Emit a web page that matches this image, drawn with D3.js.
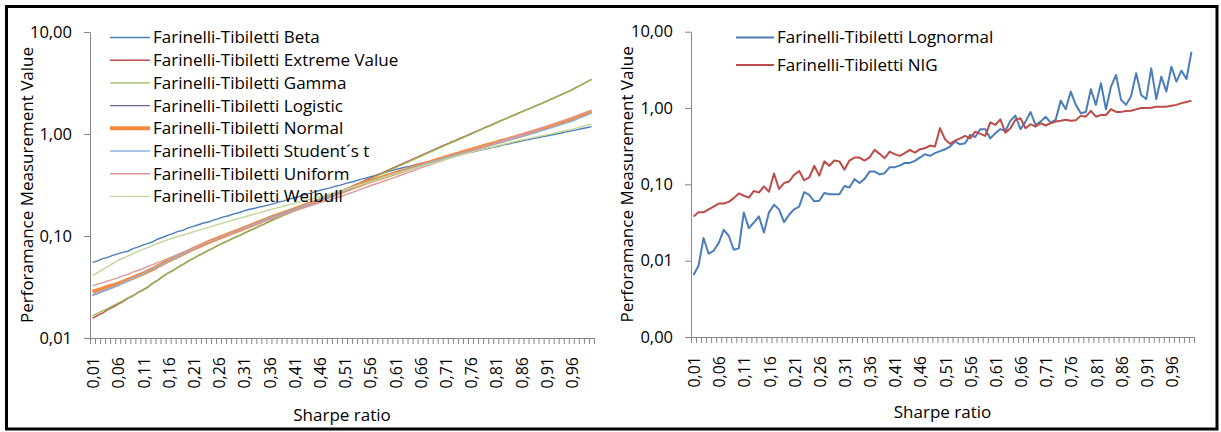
<!DOCTYPE html>
<html>
<head>
<meta charset="utf-8">
<script src="https://cdn.jsdelivr.net/npm/d3@7"></script>
<style>
  body { margin: 0; background: #fff; }
  svg { display: block; font-family: 'Open Sans', sans-serif; }
</style>
</head>
<body>
<svg id="chart" width="1221" height="432"></svg>
<script>
// categories: Sharpe ratio 0,01 .. 1,00
const sharpeRatios = d3.range(1, 101).map(i => i / 100);
const xTickLabels = ['0,01', '0,06', '0,11', '0,16', '0,21', '0,26', '0,31', '0,36', '0,41', '0,46',
                     '0,51', '0,56', '0,61', '0,66', '0,71', '0,76', '0,81', '0,86', '0,91', '0,96'];
const leftYTicks = [0.01, 0.1, 1, 10];
const rightYTicks = [0.001, 0.01, 0.1, 1, 10];

const betaValues = [0.0552,0.0571,0.0600,0.0618,0.0645,0.0668,0.0690,0.0708,0.0752,0.0779,0.0813,0.0846,0.0879,0.0935,0.0972,0.102,0.106,0.111,0.114,0.120,
  0.1245,0.129,0.134,0.137,0.143,0.148,0.154,0.158,0.165,0.169,0.176,0.182,0.186,0.192,0.196,0.202,0.208,0.216,0.221,0.230,
  0.237,0.244,0.254,0.260,0.271,0.279,0.288,0.295,0.306,0.314,0.324,0.335,0.344,0.357,0.367,0.380,0.391,0.407,0.418,0.434,
  0.447,0.459,0.473,0.484,0.500,0.513,0.527,0.539,0.554,0.567,0.582,0.596,0.613,0.627,0.645,0.661,0.677,0.696,0.712,0.732,
  0.750,0.768,0.790,0.808,0.831,0.851,0.870,0.892,0.911,0.934,0.955,0.976,1.001,1.022,1.048,1.072,1.097,1.126,1.151,1.180];

const extremeValues = [0.0156,0.0167,0.0175,0.0190,0.0200,0.0214,0.0227,0.0245,0.0258,0.0278,0.0295,0.0316,0.0345,0.0369,0.0402,0.0432,0.0460,0.0496,0.0526,0.0566,
  0.0603,0.0642,0.0678,0.0724,0.0764,0.0813,0.0859,0.0902,0.0956,0.1003,0.106,0.112,0.1175,0.1245,0.1306,0.138,0.1455,0.1525,0.161,0.1688,
  0.178,0.186,0.194,0.203,0.211,0.221,0.233,0.244,0.258,0.270,0.285,0.300,0.316,0.331,0.350,0.367,0.387,0.405,0.428,0.449,
  0.473,0.498,0.524,0.550,0.581,0.610,0.642,0.674,0.711,0.746,0.785,0.825,0.864,0.909,0.952,1.000,1.053,1.106,1.166,1.224,
  1.288,1.353,1.418,1.491,1.562,1.641,1.724,1.806,1.898,1.989,2.089,2.200,2.310,2.434,2.557,2.692,2.863,3.040,3.234,3.436];

const gammaValues = [0.0166,0.0174,0.0184,0.0194,0.0206,0.0218,0.0231,0.0247,0.0261,0.0280,0.0298,0.0320,0.0347,0.0372,0.0404,0.0434,0.0463,0.0497,0.0529,0.0567,
  0.0605,0.0643,0.0681,0.0724,0.0767,0.0812,0.0858,0.0905,0.0954,0.1004,0.1058,0.1117,0.1174,0.1240,0.1302,0.1372,0.1445,0.1518,0.1598,0.1676,
  0.1765,0.184,0.192,0.201,0.209,0.218,0.229,0.241,0.253,0.266,0.280,0.295,0.310,0.326,0.343,0.361,0.380,0.399,0.420,0.442,
  0.465,0.490,0.515,0.542,0.570,0.600,0.632,0.664,0.700,0.735,0.774,0.814,0.854,0.897,0.942,0.990,1.041,1.095,1.152,1.211,
  1.275,1.340,1.408,1.479,1.550,1.629,1.712,1.796,1.887,1.978,2.078,2.190,2.300,2.424,2.550,2.685,2.857,3.035,3.230,3.432];

const logisticValues = [0.0262,0.0273,0.0286,0.0298,0.0312,0.0327,0.0345,0.0364,0.0384,0.0405,0.0425,0.0451,0.0477,0.0507,0.0535,0.0568,0.0600,0.0636,0.0670,0.0711,
  0.0749,0.0789,0.0824,0.0869,0.0908,0.0957,0.0995,0.1045,0.1087,0.1140,0.1185,0.1246,0.1300,0.1366,0.1424,0.1497,0.1551,0.1623,0.1683,0.1760,
  0.1825,0.1908,0.1978,0.2068,0.2145,0.2243,0.2335,0.2448,0.2549,0.2670,0.2782,0.2908,0.3023,0.3160,0.3286,0.3432,0.3552,0.3695,0.3824,0.3977,
  0.4115,0.4282,0.4430,0.4608,0.4769,0.4962,0.5122,0.5316,0.5488,0.5695,0.5880,0.6103,0.6300,0.6540,0.6750,0.7008,0.7218,0.7475,0.7700,0.7975,
  0.8210,0.8504,0.8758,0.9070,0.9342,0.9675,0.9988,1.036,1.070,1.110,1.147,1.195,1.240,1.293,1.341,1.398,1.459,1.518,1.589,1.655];

const normalValues = [0.0284,0.0295,0.0305,0.0318,0.0327,0.0339,0.0355,0.0372,0.0389,0.0408,0.0427,0.0452,0.0476,0.0507,0.0537,0.0569,0.0601,0.0635,0.0671,0.0710,
  0.0750,0.0787,0.0826,0.0870,0.0910,0.0955,0.0998,0.1042,0.1089,0.1138,0.1189,0.1244,0.1302,0.1363,0.1427,0.1493,0.1555,0.1622,0.1686,0.1756,
  0.1828,0.1904,0.1982,0.2064,0.2150,0.2239,0.2339,0.2444,0.2560,0.2667,0.2786,0.2904,0.3027,0.3156,0.3290,0.3428,0.3557,0.3690,0.3829,0.3972,
  0.4121,0.4276,0.4430,0.4602,0.4775,0.4955,0.5129,0.5309,0.5495,0.5688,0.5888,0.6095,0.6309,0.6530,0.6760,0.6998,0.7228,0.7470,0.7710,0.7963,
  0.8222,0.8492,0.8770,0.9058,0.9355,0.9661,1.000,1.035,1.071,1.109,1.148,1.194,1.241,1.291,1.342,1.396,1.457,1.520,1.587,1.656];

const studentValues = [0.0264,0.0276,0.0289,0.0301,0.0314,0.0330,0.0346,0.0366,0.0384,0.0406,0.0426,0.0452,0.0479,0.0506,0.0537,0.0566,0.0601,0.0633,0.0671,0.0707,
  0.0749,0.0785,0.0827,0.0864,0.0910,0.0952,0.0999,0.1040,0.1090,0.1134,0.1188,0.1240,0.1302,0.1358,0.1426,0.1488,0.1553,0.1613,0.1684,0.1749,
  0.1825,0.1897,0.1978,0.2056,0.2145,0.2230,0.2332,0.2432,0.2549,0.2652,0.2775,0.2891,0.3016,0.3140,0.3275,0.3405,0.3540,0.3670,0.3812,0.3948,
  0.4095,0.4250,0.4400,0.4566,0.4725,0.4905,0.5075,0.5262,0.5440,0.5632,0.5820,0.6025,0.6223,0.6440,0.6650,0.6878,0.7100,0.7333,0.7570,0.7818,
  0.8065,0.8330,0.8590,0.8875,0.9150,0.9450,0.9750,1.008,1.040,1.076,1.111,1.150,1.191,1.235,1.279,1.326,1.390,1.456,1.526,1.600];

const uniformValues = [0.0324,0.0338,0.0347,0.0363,0.0374,0.0389,0.0406,0.0421,0.0442,0.0459,0.0479,0.0503,0.0524,0.0551,0.0574,0.0603,0.0630,0.0663,0.0690,0.0726,
  0.0759,0.0797,0.0832,0.0874,0.0912,0.0955,0.0997,0.1036,0.1083,0.1125,0.1175,0.1222,0.1278,0.1328,0.1389,0.1445,0.1505,0.1561,0.1628,0.1688,
  0.1758,0.1826,0.1890,0.1967,0.2036,0.2113,0.2190,0.2262,0.2347,0.2424,0.2512,0.2620,0.2728,0.2848,0.2963,0.3090,0.3215,0.3340,0.3478,0.3614,
  0.3758,0.3920,0.4080,0.4260,0.4432,0.4624,0.4810,0.4998,0.5205,0.5408,0.5623,0.5850,0.6080,0.6327,0.6572,0.6839,0.7096,0.7362,0.7640,0.7920,
  0.8222,0.8530,0.8850,0.9190,0.9520,0.9886,1.026,1.064,1.105,1.146,1.189,1.234,1.279,1.329,1.377,1.429,1.498,1.566,1.641,1.718];

const weibullValues = [0.0408,0.0437,0.0468,0.0501,0.0537,0.0575,0.0605,0.0636,0.0669,0.0704,0.0741,0.0774,0.0809,0.0845,0.0883,0.0923,0.0955,0.0989,0.1023,0.1059,
  0.1096,0.1135,0.1175,0.1216,0.1259,0.1303,0.1346,0.1390,0.1435,0.1482,0.1531,0.1581,0.1633,0.1687,0.1742,0.1799,0.1854,0.1910,0.1968,0.2028,
  0.2089,0.2153,0.2218,0.2285,0.2355,0.2427,0.2506,0.2588,0.2673,0.2760,0.2851,0.2951,0.3055,0.3162,0.3273,0.3388,0.3515,0.3648,0.3785,0.3927,
  0.4074,0.4207,0.4345,0.4487,0.4634,0.4786,0.4943,0.5105,0.5272,0.5445,0.5623,0.5807,0.5998,0.6194,0.6397,0.6607,0.6792,0.6982,0.7178,0.7379,
  0.7586,0.7798,0.8017,0.8241,0.8472,0.8710,0.8913,0.9121,0.9333,0.9551,0.9772,1.002,1.028,1.054,1.081,1.109,1.143,1.179,1.215,1.253];

const lognormalValues = [0.0065,0.0086,0.0198,0.0123,0.0135,0.0170,0.0254,0.0212,0.0139,0.0145,0.0428,0.0267,0.0316,0.0380,0.0234,0.0430,0.0540,0.0470,0.0320,0.0400,
  0.0470,0.0510,0.0790,0.0730,0.0600,0.0610,0.0770,0.0740,0.0740,0.0740,0.0950,0.0910,0.117,0.104,0.118,0.147,0.147,0.135,0.140,0.168,
  0.168,0.176,0.191,0.191,0.203,0.224,0.248,0.236,0.256,0.272,0.288,0.313,0.363,0.335,0.345,0.445,0.417,0.527,0.527,0.400,
  0.467,0.530,0.500,0.680,0.795,0.527,0.664,0.887,0.600,0.664,0.770,0.645,0.700,1.25,0.965,1.64,1.10,0.855,0.887,1.76,
  1.10,2.11,0.965,1.91,2.71,1.28,1.10,1.44,2.85,1.48,1.31,3.31,1.31,2.58,1.64,3.48,2.22,3.09,2.40,5.47];

const nigValues = [0.038,0.043,0.043,0.047,0.051,0.056,0.056,0.059,0.066,0.076,0.071,0.067,0.082,0.078,0.094,0.080,0.139,0.087,0.104,0.109,
  0.133,0.150,0.113,0.123,0.175,0.130,0.200,0.175,0.205,0.200,0.155,0.205,0.224,0.224,0.205,0.226,0.283,0.251,0.220,0.269,
  0.248,0.236,0.256,0.283,0.261,0.288,0.297,0.322,0.313,0.545,0.390,0.339,0.374,0.400,0.431,0.400,0.490,0.458,0.431,0.650,
  0.600,0.710,0.476,0.544,0.700,0.736,0.544,0.614,0.571,0.633,0.590,0.633,0.664,0.680,0.700,0.680,0.690,0.795,0.770,0.916,
  0.770,0.810,0.810,0.964,0.890,0.890,0.916,0.920,0.960,1.000,1.000,1.010,1.040,1.040,1.040,1.070,1.100,1.160,1.200,1.250];

const leftSeries = [
  { name: 'Farinelli-Tibiletti Beta', values: betaValues, color: '#4a7ebb', width: 1.4 },
  { name: 'Farinelli-Tibiletti Extreme Value', values: extremeValues, color: '#be4b48', width: 1.4 },
  { name: 'Farinelli-Tibiletti Gamma', values: gammaValues, color: '#98b954', width: 1.4 },
  { name: 'Farinelli-Tibiletti Logistic', values: logisticValues, color: '#7d60a0', width: 1.4 },
  { name: 'Farinelli-Tibiletti Normal', values: normalValues, color: '#f38b3f', width: 4 },
  { name: 'Farinelli-Tibiletti Student\u00B4s t', values: studentValues, color: '#8db3e2', width: 1.4 },
  { name: 'Farinelli-Tibiletti Uniform', values: uniformValues, color: '#dc9896', width: 1.4 },
  { name: 'Farinelli-Tibiletti Weibull', values: weibullValues, color: '#c3d69b', width: 1.4 }
];

const rightSeries = [
  { name: 'Farinelli-Tibiletti Lognormal', values: lognormalValues, color: '#4a7ebb', width: 2 },
  { name: 'Farinelli-Tibiletti NIG', values: nigValues, color: '#be4b48', width: 2 }
];

const svg = d3.select('#chart');
const axisColor = '#868686';
const fmt = d => d.toFixed(2).replace('.', ',');

svg.append('rect')
   .attr('x', 6.5).attr('y', 6.5)
   .attr('width', 1210.5).attr('height', 422.5)
   .attr('fill', 'none')
   .attr('stroke', '#000')
   .attr('stroke-width', 3);

function drawPanel(p) {
  const g = svg.append('g');

  const xBand = d3.scaleBand()
                  .domain(d3.range(sharpeRatios.length))
                  .range([p.left, p.right]);
  const xPos = i => xBand(i) + xBand.bandwidth() / 2;
  const xEdge = d3.scaleLinear()
                  .domain([0, sharpeRatios.length])
                  .range([p.left, p.right]);
  const y = d3.scaleLog()
              .domain(p.yDomain)
              .range([p.bottom, p.top]);

  // category boundary ticks
  const xAxis = g.append('g')
                 .attr('transform', `translate(0,${p.bottom})`)
                 .call(d3.axisBottom(xEdge)
                         .tickValues(d3.range(sharpeRatios.length + 1))
                         .tickSize(6)
                         .tickSizeOuter(0)
                         .tickFormat(''));
  xAxis.selectAll('path, line').attr('stroke', axisColor);

  // every fifth category is labelled
  xTickLabels.forEach((lab, k) => {
    const cx = xPos(k * 5) + 1;
    const cy = p.bottom + 19;
    g.append('text')
     .attr('x', cx).attr('y', cy)
     .attr('dy', '0.35em')
     .attr('transform', `rotate(-90,${cx},${cy})`)
     .attr('text-anchor', 'end')
     .style('font-size', '16px')
     .style('fill', '#000')
     .text(lab);
  });

  const yAxis = g.append('g')
                 .attr('transform', `translate(${p.left},0)`)
                 .call(d3.axisLeft(y)
                         .tickValues(p.yTicks)
                         .tickSize(6)
                         .tickSizeOuter(0)
                         .tickPadding(12)
                         .tickFormat(fmt));
  yAxis.selectAll('path, line').attr('stroke', axisColor);
  yAxis.selectAll('text')
       .style('font-size', '16.5px')
       .style('font-family', "'Open Sans', sans-serif")
       .style('fill', '#000');

  g.append('text')
   .attr('transform', `translate(${p.yTitleX},${(p.top + p.bottom) / 2}) rotate(-90)`)
   .attr('dy', '0.35em')
   .style('text-anchor', 'middle')
   .style('font-size', '17px')
   .text('Perforamance Measurement Value');

  g.append('text')
   .attr('x', (p.left + p.right) / 2)
   .attr('y', p.xTitleY)
   .style('text-anchor', 'middle')
   .style('font-size', '17px')
   .text('Sharpe ratio');

  const line = d3.line()
                 .x((d, i) => xPos(i))
                 .y(d => y(d));

  p.series.forEach(s => {
    g.append('path')
     .datum(s.values)
     .attr('fill', 'none')
     .attr('stroke', s.color)
     .attr('stroke-width', s.width)
     .attr('stroke-linejoin', 'round')
     .attr('d', line);
  });

  // legend
  p.series.forEach((s, k) => {
    const ly = p.legend.y + k * p.legend.step;
    g.append('line')
     .attr('x1', p.legend.x).attr('x2', p.legend.x + p.legend.len)
     .attr('y1', ly).attr('y2', ly)
     .attr('stroke', s.color)
     .attr('stroke-width', s.width);
    g.append('text')
     .attr('x', p.legend.x + p.legend.len + 3)
     .attr('y', ly)
     .attr('dy', '0.35em')
     .style('font-size', '17px')
     .text(s.name);
  });
}

drawPanel({
  left: 90, right: 594, top: 32, bottom: 338,
  yDomain: [0.01, 10], yTicks: leftYTicks,
  yTitleX: 27, xTitleY: 421,
  series: leftSeries,
  legend: { x: 110, y: 37.5, step: 22.7, len: 40 }
});

drawPanel({
  left: 691, right: 1194, top: 31.7, bottom: 337,
  yDomain: [0.001, 10], yTicks: rightYTicks,
  yTitleX: 627, xTitleY: 418,
  series: rightSeries,
  legend: { x: 736, y: 37.5, step: 27.6, len: 38 }
});
</script>
</body>
</html>
